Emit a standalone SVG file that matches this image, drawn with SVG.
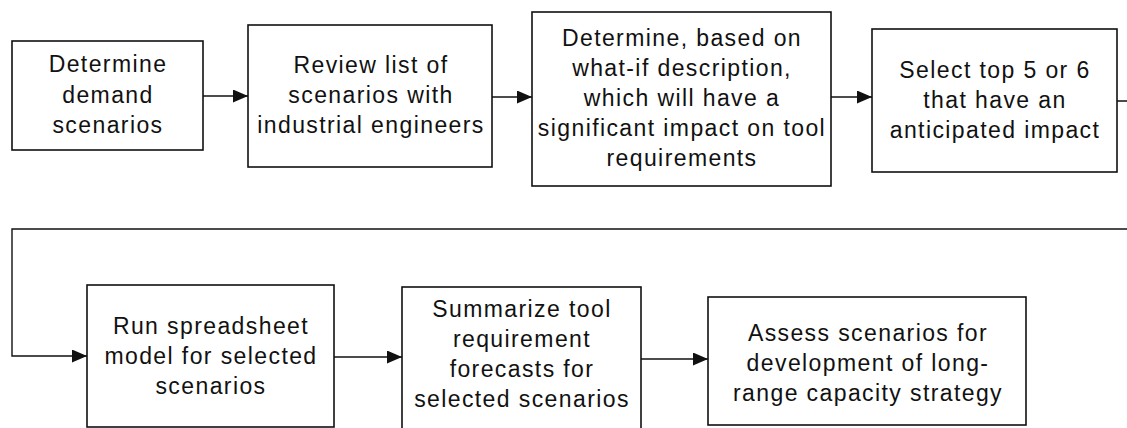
<svg xmlns="http://www.w3.org/2000/svg" width="1127" height="428" viewBox="0 0 1127 428">
  <style>
    .box { fill: #ffffff; stroke: #111111; stroke-width: 1.6; }
    .lbl { font-family: "Liberation Sans", Arial, Helvetica, sans-serif; font-size: 23px; letter-spacing: 1.4px; fill: #111111; text-anchor: middle; }
    .wire { fill: none; stroke: #111111; stroke-width: 1.4; }
  </style>
  <defs>
    <marker id="head" markerUnits="userSpaceOnUse" markerWidth="15" markerHeight="13" refX="15" refY="6.5" orient="auto">
      <path d="M0,0 L15,6.5 L0,13 Z" fill="#111111"/>
    </marker>
  </defs>
  <rect width="1127" height="428" fill="#ffffff"/>

  <!-- connectors -->
  <g id="connectors">
    <path class="wire" d="M203,96 H248" marker-end="url(#head)"/>
    <path class="wire" d="M492,97 H532" marker-end="url(#head)"/>
    <path class="wire" d="M831,97 H872" marker-end="url(#head)"/>
    <path class="wire" d="M1117,101 H1140 V229 H12 V356 H87" marker-end="url(#head)"/>
    <path class="wire" d="M334,357 H402" marker-end="url(#head)"/>
    <path class="wire" d="M641,359 H708" marker-end="url(#head)"/>
  </g>

  <!-- row 1 -->
  <g id="n1">
    <rect class="box" x="12" y="41" width="191" height="109"/>
    <text class="lbl" x="108" y="72">Determine</text>
    <text class="lbl" x="108" y="102.5">demand</text>
    <text class="lbl" x="108" y="133">scenarios</text>
  </g>
  <g id="n2">
    <rect class="box" x="248" y="25" width="244" height="142"/>
    <text class="lbl" x="371" y="73">Review list of</text>
    <text class="lbl" x="371" y="103">scenarios with</text>
    <text class="lbl" x="371" y="133">industrial engineers</text>
  </g>
  <g id="n3">
    <rect class="box" x="532" y="12" width="299" height="174"/>
    <text class="lbl" x="682" y="46">Determine, based on</text>
    <text class="lbl" x="682" y="76">what-if description,</text>
    <text class="lbl" x="682" y="106">which will have a</text>
    <text class="lbl" x="682" y="136">significant impact on tool</text>
    <text class="lbl" x="682" y="166">requirements</text>
  </g>
  <g id="n4">
    <rect class="box" x="872" y="29" width="245" height="143"/>
    <text class="lbl" x="995" y="78">Select top 5 or 6</text>
    <text class="lbl" x="995" y="108">that have an</text>
    <text class="lbl" x="995" y="138">anticipated impact</text>
  </g>

  <!-- row 2 -->
  <g id="n5">
    <rect class="box" x="87" y="285" width="247" height="142"/>
    <text class="lbl" x="211" y="334">Run spreadsheet</text>
    <text class="lbl" x="211" y="364">model for selected</text>
    <text class="lbl" x="211" y="394">scenarios</text>
  </g>
  <g id="n6">
    <rect class="box" x="402" y="287" width="239" height="142"/>
    <text class="lbl" x="522" y="317">Summarize tool</text>
    <text class="lbl" x="522" y="347">requirement</text>
    <text class="lbl" x="522" y="377">forecasts for</text>
    <text class="lbl" x="522" y="407">selected scenarios</text>
  </g>
  <g id="n7">
    <rect class="box" x="708" y="297" width="318" height="128"/>
    <text class="lbl" x="868" y="341">Assess scenarios for</text>
    <text class="lbl" x="868" y="371">development of long-</text>
    <text class="lbl" x="868" y="401">range capacity strategy</text>
  </g>
</svg>
